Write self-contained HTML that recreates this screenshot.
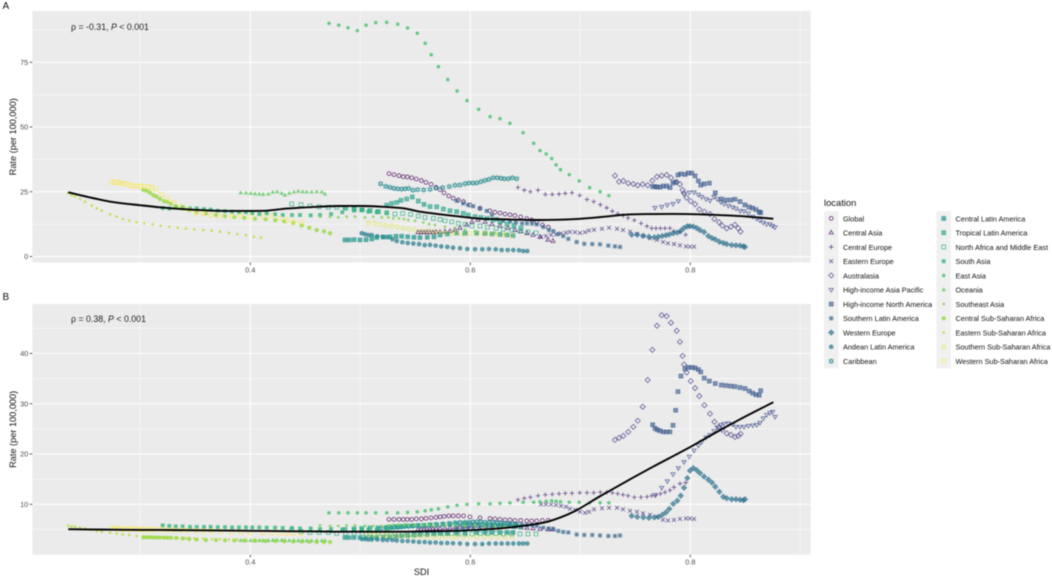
<!DOCTYPE html>
<html lang="en">
<head>
<meta charset="utf-8">
<title>Rate by SDI</title>
<style>
html,body{margin:0;padding:0;background:#fff;width:1052px;height:578px;overflow:hidden}
svg{display:block;filter:blur(.4px)}
text{font-family:"Liberation Sans",sans-serif}
</style>
</head>
<body>
<svg id="chart" xmlns="http://www.w3.org/2000/svg" width="1052" height="578" viewBox="0 0 1052 578"></svg>
<script>
const locations = ["Global","Central Asia","Central Europe","Eastern Europe","Australasia","High-income Asia Pacific","High-income North America","Southern Latin America","Western Europe","Andean Latin America","Caribbean","Central Latin America","Tropical Latin America","North Africa and Middle East","South Asia","East Asia","Oceania","Southeast Asia","Central Sub-Saharan Africa","Eastern Sub-Saharan Africa","Southern Sub-Saharan Africa","Western Sub-Saharan Africa"];
const xTicks = [0.4,0.6,0.8];
const xMinor = [0.3,0.5,0.7,0.9];
const yTicksA = [0,25,50,75];
const yMinorA = [12.5,37.5,62.5,87.5];
const yTicksB = [10,20,30,40];
const yMinorB = [5,15,25,35,45];

const sdiGlobal = [.5261,.5306,.5352,.5391,.5427,.5467,.5509,.5555,.5597,.5643,.5688,.5725,.5761,.5804,.5845,.5891,.5938,.5997,.6088,.6179,.6224,.627,.6315,.6361,.6406,.6458,.6513,.6558,.6604,.6655,.6709];
const rateAGlobal = [32,31.6,31.2,30.8,30.7,30.4,29.9,29.3,28.6,27.9,26.7,25.8,24.6,23.4,22.5,21.8,21.2,19.9,18.6,17.6,17.1,16.8,16.4,16.1,15.8,15.3,14.6,14.1,13.2,12.2,11.3];
const rateBGlobal = [7,7,7,7,7,7,7.1,7.1,7.2,7.3,7.4,7.5,7.6,7.7,7.7,7.7,7.7,7.5,7.3,7.2,7.1,7,6.9,6.9,6.8,6.8,6.7,6.7,6.7,6.8,6.8];

const sdiCentralAsia = [.5525,.5552,.5579,.5606,.5634,.5661,.5688,.5725,.577,.5815,.5861,.5906,.5967,.6015,.607,.6134,.6197,.627,.6343,.6406,.6461,.6515,.657,.6634,.6706,.6752];
const rateACentralAsia = [9.3,9.3,9.3,9.3,9.3,9.3,9.4,9.4,9.6,9.8,10.3,11,12.2,13.4,14.1,13.3,12.5,11.8,11,10.2,9.7,9,8.3,7.6,6.4,6];
const rateBCentralAsia = [5,5,5,5.1,5.1,5.1,5.2,5.2,5.3,5.3,5.4,5.5,5.6,5.7,5.7,5.7,5.7,5.6,5.6,5.5,5.4,5.3,5.2,5.1,5,5];

const sdiCentralEurope = [.6433,.6491,.6546,.6616,.6682,.6745,.6806,.6863,.6924,.6995,.7061,.7122,.7182,.724,.7291,.734,.7388,.7434,.7491,.7552,.7606,.7649,.7688,.7728,.777,.7815,.7852,.7906,.7958];
const rateACentralEurope = [26.7,25.6,25,25.6,24,24,24.1,24.4,24.6,23.6,22,21.2,20,18.8,17.5,16.5,15.8,14.9,14,12.8,11.7,10.9,10.9,10.9,10.9,10.9,9.8,9.5,8.4];
const rateBCentralEurope = [10.9,11.2,11.4,11.7,11.9,12,12.1,12.2,12.2,12.3,12.3,12.3,12.4,12.4,12.3,12.1,11.9,11.7,11.4,11.4,11.5,11.7,11.8,12.1,12.4,12.8,13.4,14.1,14.3];

const sdiEasternEurope = [.6643,.6688,.6734,.6779,.6825,.687,.6906,.6952,.6997,.7043,.7079,.7125,.7197,.7261,.7334,.7388,.7452,.7515,.757,.7634,.7697,.7752,.7797,.7852,.7906,.7961,.7997,.8034];
const rateAEasternEurope = [7.5,7.9,8.3,8.5,8.9,9.2,9.5,9.4,9.1,9.4,10,10.3,10.7,11.1,10.7,10.2,9.6,8.7,7.9,7,6.4,5.6,5.1,4.8,4.3,3.9,3.8,3.8];
const rateBEasternEurope = [10,10,9.96,9.86,9.7,9.5,9.1,8.9,8.5,8.3,8.5,9,9.2,9.3,9.3,9,8.7,8.5,8.2,7.9,7.5,6.9,6.8,6.9,7.1,7.2,7.2,7.1];

const sdiAustralasia = [.7315,.7352,.7391,.7436,.7482,.7522,.7567,.7613,.7655,.7697,.774,.7785,.7824,.7876,.7906,.793,.7943,.7967,.8004,.8043,.8082,.8128,.8179,.8219,.8261,.8291,.8331,.837,.8406,.8436,.8457];
const rateAAustralasia = [31.2,28.9,29.2,28.3,28,27.5,27.9,27.5,29.3,30.8,31.2,31.5,30.4,28.7,27.9,25.7,24.4,22.7,21.4,20.2,18.2,17.3,16.4,14.5,13.2,11.9,10.9,11.5,12.2,10.9,9.6];
const rateBAustralasia = [22.8,23.2,23.6,24.4,25.4,26.6,29.4,34.7,40.7,45.5,47.6,47.4,46.1,44.5,42.3,39.5,37.8,36.2,34.5,33.1,31.5,29.7,28,26.4,25.4,24.8,24.1,23.8,23.4,23.6,24];

const sdiAsiaPacific = [.7679,.774,.7791,.7843,.7891,.7943,.7991,.8034,.8073,.8104,.8143,.8179,.8215,.8245,.8276,.8306,.8345,.8385,.8415,.8452,.8488,.8527,.8567,.8603,.8633,.8663,.8694,.8724,.8748,.877];
const rateAAsiaPacific = [18.8,19.2,19.9,20.3,21.4,24.1,24.7,24.8,23.9,23,22.2,21.6,23,22.2,21.1,20.4,19.6,19,18.5,17.6,17.5,16.7,15.4,14.6,13.9,13.1,12.5,12.5,11.8,11.3];
const rateBAsiaPacific = [11.85,13.3,14.6,16,17.2,18.4,19.5,20.7,21.7,22.4,23.3,23.8,24.6,25.3,25.8,26,26.1,25.9,25.4,25.4,25.4,25.6,25.7,25.8,26.2,27.1,27.8,28.2,28.4,27.4];

const sdiNorthAmerica = [.7658,.7679,.77,.7725,.7755,.7785,.7815,.7843,.7867,.7888,.7915,.7952,.7982,.8013,.8043,.8073,.8095,.8127,.8173,.8227,.8282,.8325,.8367,.8406,.8452,.8497,.8536,.8567,.8597,.8627,.864];
const rateANorthAmerica = [27,27,26.8,26.8,27.2,27.2,26.6,28.4,28.8,31.5,31.9,31.7,32.2,32.2,31.1,29.2,27.6,28,28.3,24.6,22.2,21.8,21.8,22.1,21.2,19.9,19.1,18.7,18.1,17.2,16.9];
const rateBNorthAmerica = [25.8,25.1,24.8,24.6,24.4,24.4,24.4,25.7,28.7,32.4,35.5,36.9,37.2,37.2,37.1,36.8,36.3,35.1,34.5,34,33.7,33.6,33.5,33.4,33.2,33,32.5,32.1,31.8,31.7,32.6];

const sdiSouthernLatin = [.5876,.5936,.5979,.6027,.6088,.6149,.6197,.6243,.6297,.6361,.6415,.647,.6515,.6561,.6604,.6664,.6715,.6755,.68,.6845,.6891,.6967,.7036,.7109,.7179,.7255,.7315,.7361];
const rateASouthernLatin = [21.5,20.5,19.9,19.4,18.6,17.6,16,14.4,13.8,13.5,13.1,12.8,12.8,12.7,12.4,11.4,10.2,9.8,8.7,7.9,6.8,5.6,4.9,4.8,4.7,4.2,3.9,3.7];
const rateBSouthernLatin = [5.2,5.3,5.3,5.4,5.5,5.6,5.7,5.8,5.9,6,6,6,5.9,5.9,5.7,5.35,5.2,5.1,4.7,4.5,4.4,4,3.9,3.9,3.8,3.7,3.7,3.8];

const sdiWesternEurope = [.7467,.7518,.7573,.7624,.7673,.7709,.7745,.7779,.7809,.7845,.7882,.7913,.7943,.7973,.7997,.8027,.8058,.8088,.8125,.8164,.8197,.8227,.8264,.83,.8331,.8376,.8415,.8452,.8482,.8497];
const rateAWesternEurope = [8.4,8.4,8,7.6,7.4,7.6,7.9,8.2,8.5,9,9.2,9.9,11,11.7,11.7,11.6,11,10.2,9.4,7.9,7.1,6.6,5.7,5.2,4.8,4.4,4.3,4.2,3.9,3.7];
const rateBWesternEurope = [7.7,7.5,7.4,7.3,7.4,7.5,7.9,8.4,9.1,10.1,10.7,11.7,13.3,15.2,16.7,17.2,16.8,16.2,15.5,14.9,14.3,13.5,12.5,11.5,11.2,11,11,10.9,10.8,11];

const sdiAndean = [.5013,.5043,.5073,.5104,.5155,.5204,.5245,.5291,.5331,.5382,.5431,.5482,.5534,.5585,.5634,.5685,.5736,.5791,.5843,.5906,.5973,.6043,.6109,.617,.6231,.6285,.634,.6391,.6443,.6481,.6518];
const rateAAndean = [9,8.6,8.3,8.3,7.8,7.6,7.5,6.7,6,5.5,5.2,5,4.8,4.4,4.5,4.2,3.9,3.7,3.4,3.2,2.9,2.8,2.8,2.9,2.8,2.5,2.5,2.5,2.4,2.1,2.1];
const rateBAndean = [3.1,3.1,3,3,3,2.9,2.9,2.9,2.8,2.7,2.7,2.6,2.5,2.5,2.4,2.4,2.3,2.3,2.25,2.2,2.1,2.1,2.1,2.2,2.2,2.2,2.2,2.2,2.2,2.2,2.2];

const sdiCaribbean = [.5185,.5231,.527,.5306,.534,.5376,.5406,.544,.5479,.5522,.5576,.5634,.5688,.5749,.5809,.5861,.5906,.5952,.5988,.6025,.6058,.6097,.6134,.617,.6209,.6245,.6279,.6309,.6345,.6382,.6422];
const rateACaribbean = [28.1,27.1,26.7,26.3,26.1,26,26.1,26.3,25.6,25.8,25.7,25.9,26.4,26.6,27,27.5,27.6,28.1,28.4,28.4,28.4,28.9,29.4,29.8,30.4,30.4,30.2,30,30,30.4,30];
const rateBCaribbean = [5.2,5.3,5.3,5.4,5.4,5.5,5.6,5.6,5.7,5.7,5.8,5.9,6,6.1,6.2,6.3,6.4,6.4,6.4,6.5,6.5,6.5,6.4,6.4,6.4,6.3,6.3,6.2,6.2,6.1,6.1];

const sdiCentralLatin = [.4861,.4897,.4943,.4997,.5052,.5104,.5149,.5209,.527,.5325,.5376,.5431,.5488,.5543,.5609,.567,.5725,.5791,.5876,.5952,.6058,.6134,.6197,.627,.6334,.6388];
const rateACentralLatin = [6.4,6.4,6.5,6.4,6.5,6.8,7.3,7.5,7.6,7.8,7.8,7.6,7.4,7.3,7.4,7.6,8.3,8.7,9,9,9,8.9,8.7,8.5,8.3,8.1];
const rateBCentralLatin = [3.4,3.4,3.4,3.4,3.4,3.4,3.4,3.5,3.5,3.6,3.7,3.8,3.9,4,4,4.1,4.2,4.2,4.3,4.3,4.4,4.4,4.4,4.4,4.4,4.4];

const sdiTropicalLatin = [.4861,.4943,.5013,.5088,.5161,.524,.5285,.5331,.537,.5422,.5473,.5527,.5579,.5634,.5695,.5755,.5815,.5876,.5936,.5982,.6043,.6097,.6152,.6206,.627,.6334,.6397,.6461];
const rateATropicalLatin = [19,18.6,18,17.7,17.3,19.8,20.5,20.9,21.7,22.2,23,21.4,20.1,19.3,19.2,18.3,17.7,17.3,16.7,16,15.4,15.1,14.7,14.1,13.3,12.5,12,11];
const rateBTropicalLatin = [5,5.1,5.2,5.3,5.3,5.4,5.5,5.6,5.6,5.7,5.7,5.8,5.8,5.9,5.9,6,6,6.1,6.1,6.1,6,6,5.9,5.9,5.8,5.7,5.6,5.5];

const sdiNorthAfrica = [.4376,.4461,.4543,.4625,.4709,.4785,.4867,.4945,.5018,.5088,.5164,.524,.5315,.5385,.5458,.5527,.5588,.5664,.5725,.577,.5831,.5891,.5952,.6015,.6088,.6155,.6234,.63,.6376,.6452,.6524,.6597];
const rateANorthAfrica = [20.3,20,19.5,19.2,19,19,18.6,18.2,18,17.7,17.3,16.9,16.4,16.6,16.3,15.6,15.1,14.7,14.3,13.8,13.4,12.8,12.4,11.8,11.8,11.3,10.9,10.5,10.2,9.8,9.5,9.1];
const rateBNorthAfrica = [4.9,4.6,4.4,4.4,4.4,4.2,4.2,4.2,4.2,4.2,4.2,4.2,4.2,4.1,4.1,4.1,4.2,4.2,4.2,4.2,4.2,4.1,4.1,4.1,4.2,4.2,4.2,4.1,4.1,4.1,4.1,4.1];

const sdiSouthAsia = [.3204,.3264,.3322,.3385,.3452,.3513,.3579,.364,.3704,.377,.3834,.3897,.3961,.4018,.4082,.4149,.4225,.4295,.4379,.4452,.4549,.4634,.4734,.4836,.4943,.5013,.5073,.5149,.524];
const rateASouthAsia = [18.7,18.5,19.2,19,18.6,18.6,18.3,18.1,17.7,17.5,17.3,17.1,17.1,16.7,16.4,16.7,16.3,16,16,16,15.9,16,16.4,17.1,17.7,18,17.3,17.1,16.7];
const rateBSouthAsia = [5.8,5.7,5.6,5.6,5.5,5.5,5.5,5.5,5.45,5.45,5.4,5.4,5.4,5.4,5.4,5.35,5.35,5.3,5.3,5.2,5.2,5.1,5.1,5,5,5,5,5,5];

const sdiEastAsia = [.4715,.4804,.4888,.4973,.5052,.514,.524,.534,.543,.5518,.559,.5645,.571,.5795,.588,.597,.6076,.618,.627,.636,.648,.6576,.6634,.669,.674,.678,.682,.69,.699,.7085,.718,.726];
const rateAEastAsia = [90,89.3,88.3,87.2,89.3,90.3,90.4,89.7,88.2,86.2,82.3,77.9,73.3,68.3,63.9,60.2,56.8,54,53.2,51.4,47.8,43.7,40.9,39.6,37.8,35.4,33.5,31.6,29.2,26.6,25,23.5];
const rateBEastAsia = [8.3,8.3,8.3,8.3,8.3,8.3,8.3,8.3,8.4,8.5,8.7,8.9,9.1,9.5,9.8,10,10.1,10.1,10.2,10.3,10.4,10.4,10.5,10.6,10.7,10.6,10.5,10.4,10.4,10.3,10.3,10.3];

const sdiOceania = [.3913,.3961,.4004,.4043,.4082,.4118,.4164,.4204,.4245,.4285,.4315,.4355,.4397,.4436,.4476,.4513,.4558,.4604,.465,.4679];
const rateAOceania = [24.6,24.5,24.4,24.2,24.1,24,24.1,24.8,25,24.4,23.7,24.4,24.9,25.2,25,24.9,24.9,25,24.9,24.1];
const rateBOceania = [2.8,2.8,2.8,2.8,2.8,2.75,2.8,2.85,2.85,2.85,2.8,2.8,2.8,2.75,2.75,2.75,2.75,2.8,2.75,2.8];

const sdiSoutheastAsia = [.4634,.4725,.48,.4876,.4952,.5043,.5118,.5195,.5255,.53,.5352,.5397,.5436,.5497,.5573,.5625,.5679,.577,.5861,.5952,.6043,.6134,.6225,.6315];
const rateASoutheastAsia = [15.4,15.4,15.1,15.4,15.4,15.1,15.4,15.1,15.1,14.7,14.7,14.5,14.1,13.8,13.1,12.5,12.2,11.5,11,10.4,9.8,9.5,9.1,8.7];
const rateBSoutheastAsia = [5.8,5.7,5.7,5.8,5.8,5.7,5.7,5.7,5.8,5.9,5.9,5.9,5.9,5.9,5.9,5.9,5.8,5.8,5.8,5.7,5.7,5.6,5.6,5.5];

const sdiCentralSSA = [.3027,.3058,.3088,.3118,.3148,.3179,.3215,.3245,.3279,.3325,.3385,.3445,.3513,.3597,.3688,.377,.3855,.3945,.4043,.414,.4227,.4309,.4391,.4467,.4536,.4604,.467,.4725];
const rateACentralSSA = [25.7,25.4,24.6,23.7,23.1,22.2,21.4,21.1,20.3,19.2,18.5,17.9,17.3,16.6,16,15.6,15.2,14.9,14.6,14.4,14,13.5,12.9,12,11.1,10.2,9.7,9];
const rateBCentralSSA = [3.45,3.45,3.45,3.4,3.4,3.4,3.4,3.35,3.35,3.3,3.2,3.1,3,2.9,2.9,2.85,2.8,2.8,2.75,2.7,2.7,2.65,2.6,2.6,2.55,2.5,2.5,2.5];

const sdiEasternSSA = [.2345,.2376,.2406,.2452,.2497,.2558,.2604,.2649,.2725,.2785,.284,.29,.2967,.3036,.3113,.3185,.3264,.334,.3415,.3491,.3573,.3649,.3725,.3806,.3882,.3961,.4034,.4097];
const rateAEasternSSA = [24.4,23.7,23.1,22.2,21.2,19.6,18.6,17.7,16.3,15.4,14.5,13.8,13.2,12.8,12.4,11.9,11.5,11.1,10.7,10.5,10.2,10,9.5,9.1,8.6,8.2,7.6,7.3];
const rateBEasternSSA = [5.75,5.6,5.55,5.35,5.2,4.9,4.7,4.55,4.35,4.2,4,3.9,3.7,3.6,3.5,3.4,3.35,3.3,3.25,3.2,3.15,3.1,3.05,3,2.95,2.9,2.9,2.85];

const sdiSouthernSSA = [.5073,.5127,.5179,.5231,.5285,.5336,.5391,.5443,.5497,.5552,.5609,.5664,.5715,.577,.5831,.5876,.5936,.5997,.6061,.6125,.6188,.6252,.6315,.6379];
const rateASouthernSSA = [13,12.8,12.4,12,11.8,11.4,10.9,10.5,10.2,9.8,9.8,9.6,9.3,9.1,9,9,8.6,8.8,8.8,8.7,8.6,8.4,8.3,8.1];
const rateBSouthernSSA = [3.9,3.9,3.8,3.8,3.8,3.7,3.7,3.6,3.6,3.6,3.5,3.5,3.5,3.5,3.5,3.5,3.5,3.5,3.5,3.5,3.5,3.5,3.5,3.5];

const sdiWesternSSA = [.274,.277,.28,.2825,.2852,.2882,.2913,.2943,.2973,.3004,.3034,.3073,.3104,.314,.3195,.3249,.3306,.337,.3431,.3506,.3573,.3643,.3725,.3831,.3913,.3997,.4118,.4195,.427,.4331,.4391,.4467];
const rateAWesternSSA = [28.8,28.6,28.5,28.4,28,27.9,27.5,27.3,27.2,27.1,27.1,26.8,26.6,25.9,24,22.2,20.9,19.5,18.2,16.6,16.6,16,15.6,15.6,15.7,15.4,15.4,15.7,14.7,14.1,13.4,13.2];
const rateBWesternSSA = [5.2,5.2,5.2,5.1,5.1,5.1,5.1,5.1,5.1,5,5,5,5,5,5,4.9,4.9,4.9,4.8,4.8,4.7,4.7,4.6,4.5,4.5,4.4,4.4,4.3,4.3,4.2,4.2,4.2];

const smoothSdi = [.2345,.2512,.2754,.2997,.3179,.3421,.3664,.3906,.4149,.4331,.4604,.4816,.5029,.521,.5392,.5543,.5725,.5906,.6088,.627,.6452,.6694,.6937,.7179,.7422,.7664,.7967,.821,.8452,.8755];
const smoothA = [24.8,23.1,21,19.8,19,18.2,17.7,17.6,17.7,18.5,19.2,19.5,19.5,19.2,18.6,17.3,16.3,15.4,14.6,14.4,14.2,14.1,14.4,15.2,16.2,16.4,16.4,16.1,15.6,14.6];
const smoothB = [5.05,5,4.95,4.9,4.9,4.85,4.8,4.75,4.7,4.65,4.6,4.55,4.55,4.55,4.55,4.6,4.65,4.75,4.95,5.2,5.65,6.5,8.5,11.6,14.6,17.5,21,24,26.9,30.3];

const seriesSdi = [sdiGlobal,sdiCentralAsia,sdiCentralEurope,sdiEasternEurope,sdiAustralasia,sdiAsiaPacific,sdiNorthAmerica,sdiSouthernLatin,sdiWesternEurope,sdiAndean,sdiCaribbean,sdiCentralLatin,sdiTropicalLatin,sdiNorthAfrica,sdiSouthAsia,sdiEastAsia,sdiOceania,sdiSoutheastAsia,sdiCentralSSA,sdiEasternSSA,sdiSouthernSSA,sdiWesternSSA];
const seriesA = [rateAGlobal,rateACentralAsia,rateACentralEurope,rateAEasternEurope,rateAAustralasia,rateAAsiaPacific,rateANorthAmerica,rateASouthernLatin,rateAWesternEurope,rateAAndean,rateACaribbean,rateACentralLatin,rateATropicalLatin,rateANorthAfrica,rateASouthAsia,rateAEastAsia,rateAOceania,rateASoutheastAsia,rateACentralSSA,rateAEasternSSA,rateASouthernSSA,rateAWesternSSA];
const seriesB = [rateBGlobal,rateBCentralAsia,rateBCentralEurope,rateBEasternEurope,rateBAustralasia,rateBAsiaPacific,rateBNorthAmerica,rateBSouthernLatin,rateBWesternEurope,rateBAndean,rateBCaribbean,rateBCentralLatin,rateBTropicalLatin,rateBNorthAfrica,rateBSouthAsia,rateBEastAsia,rateBOceania,rateBSoutheastAsia,rateBCentralSSA,rateBEasternSSA,rateBSouthernSSA,rateBWesternSSA];
const palette = ["#440154","#471264","#482273","#47317F","#443F85","#3F4C8A","#3A5A8C","#34668D","#2F728E","#2A7E8E","#26898E","#22948B","#1F9F88","#25AA82","#33B57A","#47C06F","#5EC962","#7AD151","#96D83F","#B3DD2C","#D8E219","#FDE725"];

const NS = "http://www.w3.org/2000/svg";
const svg = document.getElementById("chart");
const panelLeft = 32.3, panelRight = 810.7;
const xScale = v => 250.3 + (v - 0.4) * 1100;
const yScaleA = v => 256.5 - v * 2.59;
const yScaleB = v => 554.6 - v * 5.03;

function make(parent, tag, attrs) {
  const el = document.createElementNS(NS, tag);
  for (const k in attrs) el.setAttribute(k, attrs[k]);
  parent.appendChild(el);
  return el;
}
function label(parent, str, x, y, size, fill, anchor, name) {
  const t = make(parent, "text", {x: x, y: y, "font-size": size, fill: fill, "text-anchor": anchor});
  t.textContent = str;
  
  
  return t;
}
function tri(x, y, r, dir) {
  const h = r * 1.15 * dir;
  return `M${x-r*1.1} ${y+h*0.62}L${x+r*1.1} ${y+h*0.62}L${x} ${y-h*1.05}Z`;
}
function shapePath(s, x, y, r) {
  const plus = `M${x-r*1.2} ${y}H${x+r*1.2}M${x} ${y-r*1.2}V${y+r*1.2}`;
  const cross = `M${x-r} ${y-r}L${x+r} ${y+r}M${x-r} ${y+r}L${x+r} ${y-r}`;
  const sq = `M${x-r} ${y-r}H${x+r}V${y+r}H${x-r}Z`;
  const dia = `M${x} ${y-r*1.35}L${x+r*1.35} ${y}L${x} ${y+r*1.35}L${x-r*1.35} ${y}Z`;
  const circ = `M${x-r} ${y}a${r} ${r} 0 1 0 ${2*r} 0a${r} ${r} 0 1 0 ${-2*r} 0Z`;
  switch (s) {
    case 0: return {d: circ};
    case 1: return {d: tri(x, y, r, 1)};
    case 2: return {d: plus};
    case 3: return {d: cross};
    case 4: return {d: dia};
    case 5: return {d: tri(x, y, r, -1)};
    case 6: return {d: sq + cross, fill: 0.35};
    case 7: return {d: plus + cross, sw: 0.9};
    case 8: return {d: dia + plus, fill: 0.6};
    case 9: return {d: circ + plus, fill: 0.7};
    case 10: return {d: tri(x, y, r, 1) + tri(x, y, r, -1)};
    case 11: return {d: sq + plus, fill: 0.75};
    case 12: return {d: sq + cross, fill: 0.3};
    case 13: return {d: sq};
    case 14: return {d: `M${x-r*0.95} ${y-r*0.95}H${x+r*0.95}V${y+r*0.95}H${x-r*0.95}Z`, fill: 1, sw: 0.2};
    case 15: return {d: `M${x-r*0.9} ${y}a${r*0.9} ${r*0.9} 0 1 0 ${1.8*r} 0a${r*0.9} ${r*0.9} 0 1 0 ${-1.8*r} 0Z`, fill: 1, sw: 0.2};
    case 16: return {d: tri(x, y, r, 1), fill: 1, sw: 0.2};
    case 17: return {d: `M${x} ${y-r*0.85}L${x+r*0.85} ${y}L${x} ${y+r*0.85}L${x-r*0.85} ${y}Z`, fill: 1, sw: 0.3};
    case 18: return {d: `M${x-r*1.05} ${y}a${r*1.05} ${r*1.05} 0 1 0 ${2.1*r} 0a${r*1.05} ${r*1.05} 0 1 0 ${-2.1*r} 0Z`, fill: 1, sw: 0.2};
    case 19: return {d: `M${x-r*0.65} ${y}a${r*0.65} ${r*0.65} 0 1 0 ${1.3*r} 0a${r*0.65} ${r*0.65} 0 1 0 ${-1.3*r} 0Z`, fill: 1, sw: 0.2};
    case 20: return {d: circ};
    default: return {d: sq};
  }
}
function drawMark(parent, s, x, y, color) {
  const p = shapePath(s, x, y, 1.9);
  const attrs = {d: p.d, stroke: color, "stroke-width": p.sw === undefined ? 0.8 : p.sw, fill: p.fill ? color : "none", opacity: s >= 20 ? 0.65 : 0.8};
  if (p.fill) attrs["fill-opacity"] = p.fill;
  return make(parent, "path", attrs);
}

function drawPanel(cfg) {
  const g = make(svg, "g", {});
  
  
  const bg = make(g, "rect", {x: panelLeft, y: cfg.top, width: panelRight - panelLeft, height: cfg.bottom - cfg.top, fill: "#EBEBEB"});
  
  
  cfg.yMinor.forEach(v => {
    const l = make(g, "line", {x1: panelLeft, x2: panelRight, y1: cfg.y(v), y2: cfg.y(v), stroke: "#fff", "stroke-width": 0.5});
    
    
  });
  xMinor.forEach(v => {
    const l = make(g, "line", {x1: xScale(v), x2: xScale(v), y1: cfg.top, y2: cfg.bottom, stroke: "#fff", "stroke-width": 0.5});
    
    
  });
  cfg.yTicks.forEach(v => {
    const l = make(g, "line", {x1: panelLeft, x2: panelRight, y1: cfg.y(v), y2: cfg.y(v), stroke: "#fff", "stroke-width": 1});
    
    
    const t = make(g, "line", {x1: panelLeft - 2.6, x2: panelLeft, y1: cfg.y(v), y2: cfg.y(v), stroke: "#333", "stroke-width": 0.8});
    
    
    label(g, String(v), panelLeft - 4, cfg.y(v) + 2.7, 7.4, "#4D4D4D", "end", "y-tick-label");
  });
  xTicks.forEach(v => {
    const l = make(g, "line", {x1: xScale(v), x2: xScale(v), y1: cfg.top, y2: cfg.bottom, stroke: "#fff", "stroke-width": 1});
    
    
    const t = make(g, "line", {x1: xScale(v), x2: xScale(v), y1: cfg.bottom, y2: cfg.bottom + 2.6, stroke: "#333", "stroke-width": 0.8});
    
    
    label(g, v.toFixed(1), xScale(v), cfg.bottom + 9.8, 7.4, "#4D4D4D", "middle", "x-tick-label");
  });
  cfg.series.forEach((vals, i) => {
    const sg = make(g, "g", {});
    
    
    const xs = seriesSdi[i];
    const n = Math.min(xs.length, vals.length);
    for (let k = 0; k < n; k++) {
      const m = drawMark(sg, i, xScale(xs[k]), cfg.y(vals[k]), palette[i]);
      
      
    }
  });
  const pts = smoothSdi.map((s, k) => [xScale(s), cfg.y(cfg.smooth[k])]);
  let d = "M" + pts[0][0] + " " + pts[0][1];
  for (let k = 0; k < pts.length - 1; k++) {
    const p0 = pts[Math.max(k - 1, 0)], p1 = pts[k], p2 = pts[k + 1], p3 = pts[Math.min(k + 2, pts.length - 1)];
    d += "C" + (p1[0] + (p2[0] - p0[0]) / 6) + " " + (p1[1] + (p2[1] - p0[1]) / 6) + " " +
         (p2[0] - (p3[0] - p1[0]) / 6) + " " + (p2[1] - (p3[1] - p1[1]) / 6) + " " + p2[0] + " " + p2[1];
  }
  const sm = make(g, "path", {d: d, fill: "none", stroke: "#000", "stroke-width": 1.9});
  
  
  const y = cfg.annotY;
  const an = make(g, "text", {x: 71, y: y, "font-size": 8.8, fill: "#222"});
  
  
  an.textContent = "\u03C1 = " + cfg.rho + ", ";
  const it = make(an, "tspan", {"font-style": "italic"});
  it.textContent = "P";
  const tail = make(an, "tspan", {});
  tail.textContent = " < 0.001";
  label(g, cfg.letter, 2.5, cfg.letterY, 10, "#111", "start", "panel-tag");
  const yt = label(g, "Rate (per 100,000)", 0, 0, 9.2, "#111", "middle", "y-axis-title");
  yt.setAttribute("transform", "translate(16 " + (cfg.top + cfg.bottom) / 2 + ") rotate(-90)");
}

drawPanel({name: "panel-a", letter: "A", letterY: 9, top: 11, bottom: 262.5, y: yScaleA, yTicks: yTicksA, yMinor: yMinorA, series: seriesA, smooth: smoothA, rho: "-0.31", annotY: 30});
drawPanel({name: "panel-b", letter: "B", letterY: 300, top: 304, bottom: 554.7, y: yScaleB, yTicks: yTicksB, yMinor: yMinorB, series: seriesB, smooth: smoothB, rho: "0.38", annotY: 322});
label(svg, "SDI", 421.5, 575, 9.2, "#111", "middle", "x-axis-title");

const legend = make(svg, "g", {});


label(legend, "location", 824, 206, 9.4, "#111", "start", "legend-title");
locations.forEach((loc, i) => {
  const col = i < 11 ? 0 : 1;
  const row = i % 11;
  const keyX = col === 0 ? 824 : 936.5;
  const keyY = 211.3 + row * 14.27;
  const e = make(legend, "g", {});
  
  
  const k = make(e, "rect", {x: keyX, y: keyY, width: 14.4, height: 14.27, fill: "#F0F0F0"});
  
  
  const m = drawMark(e, i, keyX + 7.2, keyY + 7.1, palette[i]);
  
  
  label(e, loc, keyX + 19, keyY + 10, 7.3, "#111", "start", "legend-label");
});
</script>
</body>
</html>
